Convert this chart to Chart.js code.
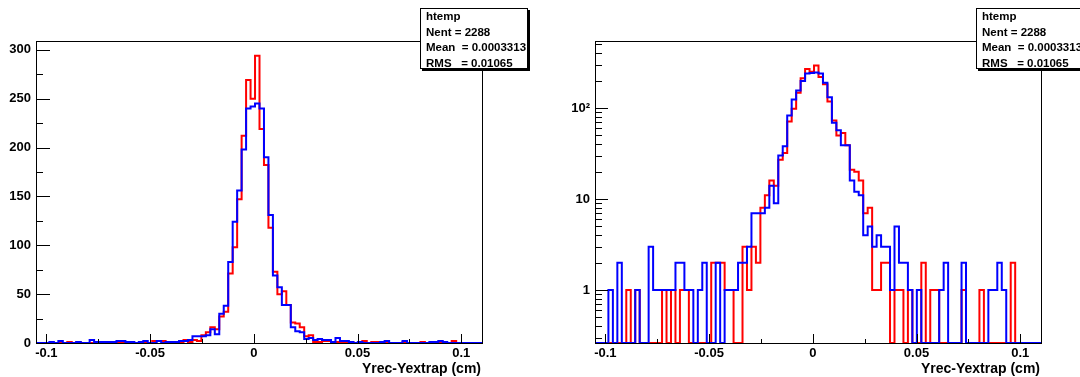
<!DOCTYPE html>
<html>
<head>
<meta charset="UTF-8">
<title>Yrec-Yextrap</title>
<script src="https://cdn.jsdelivr.net/npm/chart.js"></script>
<style>
  html, body { margin: 0; padding: 0; background: #fff; overflow: hidden; }
  #wrap { position: relative; width: 1080px; height: 377px; overflow: hidden; }
  canvas { position: absolute; top: 0; }
  .stats {
    position: absolute; top: 8px; width: 108px; height: 61px;
    box-sizing: border-box; border: 1px solid #000; box-shadow: 2px 2px 0 #000;
    background: #fff; padding-left: 5px;
    font: bold 11.5px "Liberation Sans", Arial, sans-serif; line-height: 15.5px;
    white-space: pre; color: #000;
  }
</style>
</head>
<body>
<div id="wrap">
  <canvas id="linChart" width="540" height="377" style="left:0"></canvas>
  <canvas id="logChart" width="540" height="377" style="left:540px"></canvas>
  <div class="stats" style="left:420px">htemp
Nent = 2288
Mean  = 0.0003313
RMS   = 0.01065</div>
  <div class="stats" style="left:976px">htemp
Nent = 2288
Mean  = 0.0003313
RMS   = 0.01065</div>
</div>

<script>
// histogram binning (100 bins)
const xLow = -0.105;
const binWidth = 0.002155;
const nBins = 100;
const binEdges = Array.from({ length: nBins + 1 }, (_, i) => xLow + i * binWidth);

// counts per bin
const redCounts = [
  0, 0, 0, 0, 0, 0, 0, 1, 0, 1,
  0, 0, 0, 0, 0, 1, 0, 1, 0, 1,
  1, 0, 0, 0, 0, 0, 2, 2, 2, 1,
  1, 0, 0, 3, 1, 3, 2, 8, 11, 16,
  14, 27, 32, 71, 98, 147, 212, 269, 250, 294,
  219, 182, 118, 73, 50, 53, 39, 21, 20, 16,
  7, 8, 1, 1, 2, 2, 0, 1, 1, 0,
  1, 0, 0, 2, 0, 1, 1, 0, 0, 0,
  0, 0, 1, 0, 0, 0, 1, 0, 0, 0,
  0, 0, 0, 2, 0, 0, 0, 0, 0, 0
];
const blueCounts = [
  0, 0, 0, 1, 0, 2, 0, 0, 0, 1,
  0, 0, 3, 1, 1, 1, 1, 1, 2, 2,
  1, 1, 0, 1, 2, 0, 0, 2, 0, 1,
  1, 1, 2, 2, 3, 7, 7, 7, 8, 14,
  9, 30, 38, 83, 124, 156, 198, 240, 242, 245,
  240, 190, 131, 69, 57, 39, 39, 16, 12, 11,
  4, 5, 3, 4, 3, 3, 1, 5, 2, 2,
  1, 0, 1, 0, 0, 0, 0, 1, 2, 0,
  0, 0, 2, 0, 0, 0, 0, 0, 1, 1,
  2, 1, 0, 0, 0, 0, 0, 0, 0, 0
];

const xTicks = [-0.1, -0.05, 0, 0.05, 0.1];
const xMinorTicks = [-0.075, -0.025, 0.025, 0.075];
const linTicks = [0, 50, 100, 150, 200, 250, 300];
const linMinorTicks = [25, 75, 125, 175, 225, 275];
const logTicks = [1, 10, 100];
const logMinorTicks = [0.3, 0.4, 0.5, 0.6, 0.7, 0.8, 0.9, 2, 3, 4, 5, 6, 7, 8, 9,
  20, 30, 40, 50, 60, 70, 80, 90, 200, 300, 400, 500];
const axisTitle = 'Yrec-Yextrap (cm)';

const linMax = 309;
const logMin = 0.262;
const logMax = 545;

Chart.defaults.font.family = '"Liberation Sans", Arial, sans-serif';
Chart.defaults.color = '#000';

// histogram outline: one point per bin low edge, last point closes at the upper edge
function steps(counts, floor) {
  const pts = counts.map((c, i) => ({ x: binEdges[i], y: Math.max(c, floor) }));
  pts.push({ x: binEdges[nBins], y: Math.max(counts[nBins - 1], floor) });
  return pts;
}

// ROOT-like frame, inner tick marks and axis title
const rootFrame = {
  id: 'rootFrame',
  afterDatasetsDraw(chart, args, o) {
    const { ctx, chartArea: a, scales: { x, y } } = chart;
    ctx.save();
    ctx.strokeStyle = '#000';
    ctx.lineWidth = 1;
    ctx.beginPath();
    const xt = (list, len) => list.forEach(v => {
      const px = Math.round(x.getPixelForValue(v)) + 0.5;
      ctx.moveTo(px, a.bottom); ctx.lineTo(px, a.bottom - len);
    });
    const yt = (list, len) => list.forEach(v => {
      const py = Math.round(y.getPixelForValue(v)) + 0.5;
      ctx.moveTo(a.left, py); ctx.lineTo(a.left + len, py);
    });
    xt(xTicks, 9);
    xt(xMinorTicks, 4);
    yt(o.yMajor, o.majorLen);
    yt(o.yMinor, o.minorLen);
    ctx.stroke();
    ctx.strokeRect(Math.round(a.left) + 0.5, Math.round(a.top) + 0.5,
      Math.round(a.width) - 1, Math.round(a.height));
    ctx.font = 'bold 14px "Liberation Sans", Arial, sans-serif';
    ctx.fillStyle = '#000';
    ctx.textAlign = 'right';
    ctx.textBaseline = 'middle';
    ctx.fillText(axisTitle, a.right - 2, 369);
    ctx.restore();
  }
};

function makeChart(id, cfg) {
  const floor = cfg.log ? logMin : 0;
  return new Chart(document.getElementById(id), {
    type: 'line',
    data: {
      datasets: [
        { data: steps(redCounts, floor), borderColor: '#ff0000', borderWidth: 2, order: 1 },
        { data: steps(blueCounts, floor), borderColor: '#0000ff', borderWidth: 2, order: 0 }
      ]
    },
    options: {
      responsive: false,
      animation: false,
      events: [],
      elements: { point: { radius: 0 }, line: { stepped: true, tension: 0, fill: false } },
      layout: { padding: { top: 41, right: cfg.padRight, left: 0, bottom: 0 } },
      plugins: {
        legend: { display: false },
        tooltip: { enabled: false },
        rootFrame: cfg.ticks
      },
      scales: {
        x: {
          type: 'linear',
          min: xLow,
          max: binEdges[nBins],
          grid: { display: false, drawTicks: false },
          border: { display: false },
          afterBuildTicks: s => { s.ticks = xTicks.map(v => ({ value: v })); },
          afterFit: s => { s.height = 34; },
          ticks: {
            autoSkip: false, maxRotation: 0, padding: 3,
            font: { size: 13, weight: 'bold' },
            callback: v => String(v)
          }
        },
        y: {
          type: cfg.log ? 'logarithmic' : 'linear',
          min: cfg.log ? logMin : 0,
          max: cfg.log ? logMax : linMax,
          grid: { display: false, drawTicks: false },
          border: { display: false },
          afterBuildTicks: s => { s.ticks = cfg.ticks.yMajor.map(v => ({ value: v })); },
          afterFit: s => { s.width = cfg.yWidth; },
          ticks: {
            autoSkip: false, padding: 5,
            font: { size: 13, weight: 'bold' },
            callback: v => (v === 100 && cfg.log) ? '10\u00B2' : String(v)
          }
        }
      }
    },
    plugins: [rootFrame]
  });
}

makeChart('linChart', {
  log: false, padRight: 57, yWidth: 36,
  ticks: { yMajor: linTicks, yMinor: linMinorTicks, majorLen: 14, minorLen: 7 }
});
makeChart('logChart', {
  log: true, padRight: 38, yWidth: 55,
  ticks: { yMajor: logTicks, yMinor: logMinorTicks, majorLen: 13, minorLen: 7 }
});
</script>
</body>
</html>
